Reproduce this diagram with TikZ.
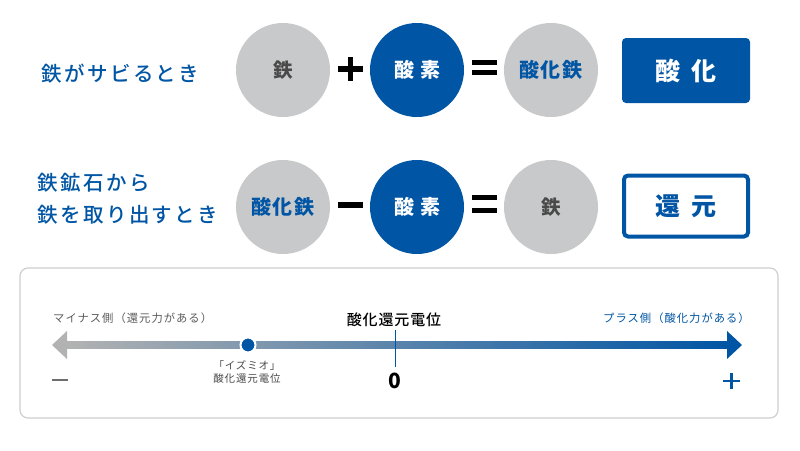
\documentclass[tikz,border=0pt]{standalone}
\usepackage{fontspec}
\setmainfont{Noto Sans CJK JP}
\newfontfamily\jpmed{Noto Sans CJK JP Medium}
\definecolor{iblue}{HTML}{0055A4}
\definecolor{igray}{HTML}{C8C9CA}
\definecolor{itext}{HTML}{4A4A4A}
\definecolor{panel}{HTML}{CFCFCF}
\tikzset{
  elem/.style={circle, minimum size=94pt, inner sep=0pt},
  grayel/.style={elem, fill=igray},
  blueel/.style={elem, fill=iblue, text=white},
  lbl/.style={text=iblue, font=\fontsize{20.5}{32}\selectfont\jpmed\addfontfeature{LetterSpace=12}, anchor=west, inner sep=0pt},
  sym/.style={line width=5.5pt, black},
  small/.style={font=\fontsize{11.3}{13}\selectfont\addfontfeature{LetterSpace=9}, inner sep=0pt},
  fetext/.style={text=itext, font=\fontsize{19.5}{20}\selectfont\bfseries},
  oxtext/.style={text=iblue, font=\fontsize{20}{22}\selectfont\bfseries\addfontfeature{LetterSpace=8}},
  o2text/.style={font=\fontsize{20}{22}\selectfont\bfseries\addfontfeature{LetterSpace=30}},
  boxtext/.style={font=\fontsize{25}{27}\selectfont\bfseries\addfontfeature{LetterSpace=45}},
}
\begin{document}
\begin{tikzpicture}[x=1pt,y=-1pt]
\useasboundingbox (0,0) rectangle (800,450);
\fill[white] (0,0) rectangle (800,450);
% row labels
\node[lbl] (l1) at (41,74) {鉄がサビるとき};
\node[lbl, align=left] (l2) at (37,199) {鉄鉱石から\\鉄を取り出すとき};
% row 1
\node[grayel, fetext] (a1) at (283,70) {鉄};
\node[blueel, o2text] (b1) at (417,70) {酸素};
\node[grayel, oxtext] (c1) at (551,70) {酸化鉄};
\node[fill=iblue, rounded corners=4pt, minimum width=128pt, minimum height=65pt, text=white, boxtext] (r1) at (686,70.5) {酸化};
% row 2
\node[grayel, oxtext] (a2) at (283,207) {酸化鉄};
\node[blueel, o2text] (b2) at (417,207) {酸素};
\node[grayel, fetext] (c2) at (551,207) {鉄};
\node[draw=iblue, line width=4pt, fill=white, rounded corners=4pt, minimum width=124pt, minimum height=61pt, text=iblue, boxtext] (r2) at (686,206) {還元};
% operators
\draw[sym] (338,69) -- (363,69) (350.5,57) -- (350.5,81);
\draw[sym] (472,62.5) -- (497,62.5) (472,72.5) -- (497,72.5);
\draw[sym] (338,205) -- (363,205);
\draw[sym] (472,197.5) -- (497,197.5) (472,210.5) -- (497,210.5);
% panel
\draw[panel, line width=1.2pt, rounded corners=8pt, fill=white] (20,268) rectangle (778,418);
\node[small, text=itext!90, anchor=west] (minus) at (53,318) {マイナス側（還元力がある）};
\node[small, text=iblue, anchor=west] (plus) at (603,318) {プラス側（酸化力がある）};
\node[inner sep=0pt, font=\fontsize{15}{17}\selectfont\jpmed\addfontfeature{LetterSpace=6}] (orp) at (394,320) {酸化還元電位};
% axis
\shade[left color=gray!60, right color=iblue] (66,341.5) rectangle (728,348.5);
\fill[gray!60] (52,345) -- (67,331) -- (67,359) -- cycle;
\fill[iblue] (742,345) -- (727,331) -- (727,359) -- cycle;
\coordinate (t0) at (395,330);
\coordinate (t1) at (395,367);
\draw[iblue, line width=0.7pt] (t0) -- (t1);
\node[circle, fill=iblue, draw=white, line width=2pt, minimum size=15pt, inner sep=0pt] (dot) at (248,345) {};
\node[small, align=center, font=\fontsize{10.5}{13}\selectfont\addfontfeature{LetterSpace=8}, text=itext] (izm) at (247,372) {「イズミオ」\\酸化還元電位};
\node[inner sep=0pt, font=\fontsize{21}{22}\selectfont\bfseries] (zero) at (395,381) {0};
\draw[itext!80, line width=2.5pt] (52,380) -- (68,380);
\draw[iblue, line width=2.5pt] (723,381) -- (740,381) (731.5,373) -- (731.5,389);
\end{tikzpicture}
\end{document}
